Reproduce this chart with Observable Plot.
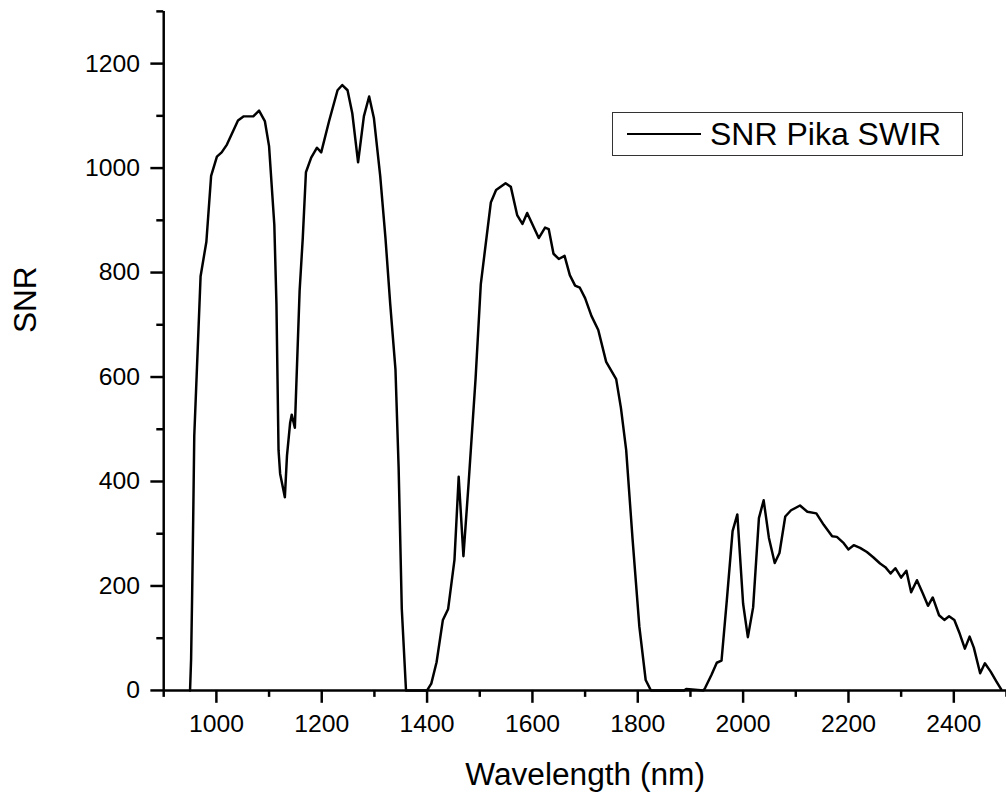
<!DOCTYPE html>
<html>
<head>
<meta charset="utf-8">
<script src="https://cdn.jsdelivr.net/npm/d3@7"></script>
<script src="https://cdn.jsdelivr.net/npm/@observablehq/plot@0.6"></script>
<style>
  html, body { margin: 0; padding: 0; background: #fff; overflow: hidden; }
  #wrap { position: relative; width: 1006px; height: 802px; overflow: hidden; background: #fff; }
  #legend {
    position: absolute; left: 612px; top: 112px; width: 351px; height: 44px;
    box-sizing: border-box; border: 1.5px solid #333; background: #fff;
    font-family: "Liberation Sans", Arial, sans-serif; font-size: 32px; color: #000;
  }
  #legend .swatch { position: absolute; left: 14px; top: 20px; width: 74px; height: 0; border-top: 2px solid #000; }
  #legend .label { position: absolute; left: 97px; top: 50%; transform: translateY(-50%); white-space: nowrap; line-height: 1; }
</style>
</head>
<body>
<div id="wrap"></div>
<script>
// Wavelength (nm) and SNR values
const wavelength = [
  950, 952, 954, 956, 958, 970, 981, 990, 1001, 1010, 1020, 1041, 1052, 1070, 1081, 1092, 1100, 1110, 1114, 1118,
  1121, 1130, 1134, 1140, 1143, 1149, 1151, 1158, 1164, 1170, 1180, 1191, 1199, 1214, 1230, 1239, 1249, 1258, 1269, 1280,
  1290, 1299, 1311, 1321, 1330, 1340, 1346, 1352, 1360, 1400, 1408, 1418, 1430, 1440, 1452, 1460, 1469, 1479, 1492, 1502,
  1521, 1531, 1549, 1559, 1571, 1581, 1590, 1612, 1624, 1631, 1640, 1650, 1661, 1671, 1681, 1690, 1700, 1712, 1725, 1740,
  1759, 1768, 1778, 1790, 1803, 1815, 1825, 1888, 1892, 1925, 1928, 1940, 1950, 1959, 1969, 1980, 1989, 2000, 2009, 2019,
  2030, 2039, 2049, 2060, 2069, 2080, 2091, 2108, 2122, 2139, 2153, 2169, 2178, 2191, 2200, 2210, 2222, 2235, 2247, 2260,
  2270, 2280, 2289, 2300, 2310, 2319, 2330, 2341, 2351, 2360, 2372, 2382, 2391, 2401, 2410, 2421, 2430, 2438, 2450, 2459,
  2470, 2481, 2490
];
const snr = [
  0, 60, 185, 330, 487, 793, 859, 985, 1022, 1030, 1045, 1091, 1099, 1099, 1110, 1090, 1042, 891, 740, 460,
  415, 370, 449, 512, 528, 503, 563, 765, 866, 992, 1020, 1039, 1030, 1090, 1149, 1159, 1149, 1105, 1011, 1099,
  1137, 1096, 985, 866, 740, 614, 426, 156, 0, 0, 13, 54, 135, 156, 250, 409, 257, 399, 596, 778,
  934, 958, 971, 964, 910, 893, 914, 866, 886, 883, 836, 826, 832, 795, 775, 771, 751, 717, 690, 629,
  596, 541, 460, 291, 122, 20, 0, 0, 3, 0, 5, 30, 53, 57, 172, 305, 337, 166, 102, 159,
  330, 364, 292, 244, 263, 333, 345, 354, 342, 339, 317, 295, 294, 282, 270, 278, 273, 265, 255, 243,
  236, 224, 234, 216, 229, 188, 211, 186, 162, 178, 144, 135, 142, 135, 112, 80, 103, 82, 33, 52,
  36, 17, 2
];
const seriesName = "SNR Pika SWIR";
const xTitle = "Wavelength (nm)";
const yTitle = "SNR";
const xMajorTicks = [1000, 1200, 1400, 1600, 1800, 2000, 2200, 2400];
const xMinorTicks = [900, 1100, 1300, 1500, 1700, 1900, 2100, 2300, 2500];
const yMajorTicks = [0, 200, 400, 600, 800, 1000, 1200];
const yMinorTicks = [100, 300, 500, 700, 900, 1100, 1300];

const data = wavelength.map((w, i) => ({wl: w, snr: snr[i]}));
const fmt = d => String(d);
const blank = () => "";

const chart = Plot.plot({
  width: 1017,
  height: 802,
  marginLeft: 165,
  marginRight: 0,
  marginTop: 11,
  marginBottom: 104.5,
  x: {domain: [900, 2500]},
  y: {domain: [0, 1300]},
  style: {
    fontFamily: "'Liberation Sans', Arial, sans-serif",
    fontSize: "25px",
    background: "#fff",
    color: "#000"
  },
  marks: [
    Plot.axisX({ticks: xMinorTicks, tickSize: 7, tickFormat: blank, strokeWidth: 2.5, label: null}),
    Plot.axisX({ticks: xMajorTicks, tickSize: 13, tickPadding: 11, tickFormat: fmt, strokeWidth: 2.5, label: null, fontSize: 25}),
    Plot.axisY({ticks: yMinorTicks, tickSize: 7, tickFormat: blank, strokeWidth: 2.5, label: null}),
    Plot.axisY({ticks: yMajorTicks, tickSize: 13, tickPadding: 11, tickFormat: fmt, strokeWidth: 2.5, label: null, fontSize: 25}),
    Plot.ruleY([0], {stroke: "#000", strokeWidth: 2.5}),
    Plot.ruleX([900], {stroke: "#000", strokeWidth: 2.5}),
    Plot.line(data, {x: "wl", y: "snr", stroke: "#000", strokeWidth: 2.5, strokeLinejoin: "round"}),
    Plot.text([xTitle], {frameAnchor: "bottom", lineAnchor: "top", dy: 73, fontSize: 32, fill: "#000"}),
    Plot.text([yTitle], {frameAnchor: "left", rotate: -90, dx: -139, dy: -18, fontSize: 32, fill: "#000"})
  ]
});

const wrap = document.getElementById("wrap");
wrap.appendChild(chart);

const legend = document.createElement("div");
legend.id = "legend";
const sw = document.createElement("div");
sw.className = "swatch";
const lab = document.createElement("div");
lab.className = "label";
lab.textContent = seriesName;
legend.appendChild(sw);
legend.appendChild(lab);
wrap.appendChild(legend);
</script>
</body>
</html>
